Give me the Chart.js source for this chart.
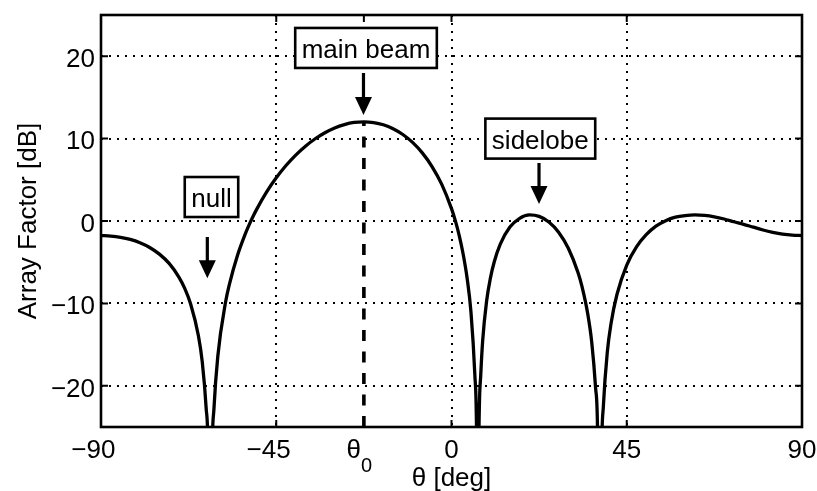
<!DOCTYPE html>
<html>
<head>
<meta charset="utf-8">
<script src="https://cdn.jsdelivr.net/npm/chart.js@4"></script>
<style>
  html, body { margin: 0; padding: 0; background: #fff; }
</style>
</head>
<body>
<canvas id="afChart" width="817" height="491"></canvas>
<script>
// Array factor (dB vs angle in degrees)
const thetaDeg = [-90, -87.5, -85, -82.5, -80, -77.5, -75, -72.5, -70, -68.5,
  -67, -65, -64, -63, -62.5, -61.97, -61.5, -61, -60, -58,
  -57, -55, -53, -52, -51, -50, -47.5, -45, -42.5, -40,
  -37.5, -35, -32.5, -30, -27.5, -25, -22.5, -20, -17.5, -15,
  -12.5, -10, -7.5, -5, -2.5, 0, 1, 2, 3, 4,
  5, 6, 6.5, 6.74, 7, 7.5, 8, 9, 10, 11,
  12.5, 15, 17.5, 20, 22.5, 25, 27.5, 30, 32.5, 33.5,
  35, 36, 37, 37.5, 38.12, 38.5, 39, 40, 41, 42.5,
  45, 47.5, 50, 52.5, 55, 57.5, 60, 62.5, 65, 67.5,
  70, 72.5, 75, 77.5, 80, 82.5, 85, 87.5, 90];
const afDb = [-1.77, -1.83, -1.98, -2.24, -2.64, -3.21, -4.02, -5.15, -6.81, -8.18,
  -10.04, -13.90, -17.1, -22.7, -28.4, -60, -29.2, -22.8, -16.38, -9.81,
  -7.62, -4.24, -1.63, -0.51, 0.51, 1.44, 3.50, 5.24, 6.73, 8.00,
  9.08, 9.98, 10.71, 11.29, 11.70, 11.96, 12.04, 11.95, 11.68, 11.20,
  10.50, 9.54, 8.27, 6.61, 4.44, 1.50, 0.01, -1.80, -4.03, -6.91,
  -11.06, -18.72, -28.7, -60, -27.9, -18.79, -14.55, -9.77, -6.90, -4.91,
  -2.83, -0.74, 0.33, 0.74, 0.56, -0.12, -1.36, -3.30, -6.27, -7.93,
  -11.31, -14.67, -20.24, -25.4, -60, -29.7, -22.45, -15.95, -12.34, -8.89,
  -5.35, -3.14, -1.66, -0.63, 0.04, 0.46, 0.66, 0.74, 0.67, 0.50,
  0.24, -0.09, -0.40, -0.75, -1.09, -1.37, -1.59, -1.72, -1.77];

// steering direction marker (dashed line up to the main beam peak)
const steerDeg = [-22.5, -22.5];
const steerDb = [-25, 12.04];

const xTickValues = [-90, -45, -22.5, 0, 45, 90];
const xTickLabels = ['\u221290', '\u221245', 'θ0', '0', '45', '90'];
const yTickValues = [-20, -10, 0, 10, 20];
const yTickLabels = ['\u221220', '\u221210', '0', '10', '20'];

const FONT = "'Liberation Sans', Arial, Helvetica, sans-serif";

function pts(xs, ys) {
  return xs.map((x, i) => ({ x: x, y: ys[i] }));
}

// frame, inside ticks, tick labels, titles and callouts (MATLAB look)
const matlabDecor = {
  id: 'matlabDecor',
  afterDraw(chart, args, opts) {
    const ctx = chart.ctx;
    const a = chart.chartArea;
    const xs = chart.scales.x, ys = chart.scales.y;
    ctx.save();
    ctx.strokeStyle = '#000';
    ctx.fillStyle = '#000';

    // inner tick marks
    ctx.lineWidth = 2;
    ctx.beginPath();
    xTickValues.forEach(v => {
      const px = xs.getPixelForValue(v);
      ctx.moveTo(px, a.bottom); ctx.lineTo(px, a.bottom - 7);
      ctx.moveTo(px, a.top); ctx.lineTo(px, a.top + 7);
    });
    yTickValues.forEach(v => {
      const py = ys.getPixelForValue(v);
      ctx.moveTo(a.left, py); ctx.lineTo(a.left + 7, py);
      ctx.moveTo(a.right, py); ctx.lineTo(a.right - 7, py);
    });
    ctx.stroke();

    // axes box
    ctx.lineWidth = 2.6;
    ctx.strokeRect(a.left, a.top, a.right - a.left, a.bottom - a.top);

    // x tick labels (digits centred on the tick, minus hangs left)
    ctx.font = '26px ' + FONT;
    ctx.textBaseline = 'alphabetic';
    ctx.textAlign = 'left';
    xTickValues.forEach((v, i) => {
      const px = xs.getPixelForValue(v);
      const lab = xTickLabels[i];
      const by = a.bottom + 31;
      if (lab === 'θ0') {
        ctx.font = '26px ' + FONT;
        ctx.textAlign = 'right';
        ctx.fillText('θ', px - 3, by);
        ctx.font = '20px ' + FONT;
        ctx.textAlign = 'left';
        ctx.fillText('0', px - 3, by + 14);
        ctx.font = '26px ' + FONT;
        return;
      }
      const neg = lab.charAt(0) === '\u2212';
      const digits = neg ? lab.slice(1) : lab;
      const dw = ctx.measureText(digits).width;
      const mw = neg ? ctx.measureText('\u2212').width : 0;
      ctx.fillText(lab, px - dw / 2 - mw, by);
    });

    // y tick labels
    ctx.textAlign = 'right';
    yTickValues.forEach((v, i) => {
      const py = ys.getPixelForValue(v);
      ctx.fillText(yTickLabels[i], a.left - 6, py + 10.7);
    });

    // axis titles
    ctx.textAlign = 'center';
    ctx.fillText('θ [deg]', (a.left + a.right) / 2, 485.5);
    ctx.save();
    ctx.translate(36, (a.top + a.bottom) / 2);
    ctx.rotate(-Math.PI / 2);
    ctx.fillText('Array Factor [dB]', 0, 0);
    ctx.restore();

    // callouts
    opts.callouts.forEach(c => {
      const bx = xs.getPixelForValue(c.box[0]);
      const by = ys.getPixelForValue(c.box[1]);
      ctx.font = '26px ' + FONT;
      const w = ctx.measureText(c.text).width + 13;
      const h = 40;
      ctx.fillStyle = '#fff';
      ctx.fillRect(bx - w / 2, by - h / 2, w, h);
      ctx.lineWidth = 2.6;
      ctx.strokeRect(bx - w / 2, by - h / 2, w, h);
      ctx.fillStyle = '#000';
      ctx.textAlign = 'center';
      ctx.fillText(c.text, bx, by + 10);

      const ax = xs.getPixelForValue(c.tip[0]);
      const ty = ys.getPixelForValue(c.tail[1]);
      const py = ys.getPixelForValue(c.tip[1]);
      ctx.lineWidth = 3.2;
      ctx.beginPath();
      ctx.moveTo(ax, ty);
      ctx.lineTo(ax, py - 16);
      ctx.stroke();
      ctx.beginPath();
      ctx.moveTo(ax, py);
      ctx.lineTo(ax - 8.5, py - 18);
      ctx.lineTo(ax + 8.5, py - 18);
      ctx.closePath();
      ctx.fill();
    });
    ctx.restore();
  }
};

const ctx = document.getElementById('afChart').getContext('2d');

new Chart(ctx, {
  type: 'line',
  data: {
    datasets: [{
      label: 'AF',
      data: pts(thetaDeg, afDb),
      borderColor: '#000',
      borderWidth: 3.3,
      pointRadius: 0,
      fill: false,
      cubicInterpolationMode: 'monotone'
    }, {
      label: 'theta0',
      data: pts(steerDeg, steerDb),
      borderColor: '#000',
      borderWidth: 3.6,
      borderDash: [11, 10.5],
      pointRadius: 0,
      fill: false
    }]
  },
  options: {
    responsive: false,
    animation: false,
    layout: { padding: { left: 0, top: 15, right: 15, bottom: 0 } },
    plugins: {
      legend: { display: false },
      tooltip: { enabled: false },
      matlabDecor: {
        callouts: [
          { text: 'main beam', box: [-21.95, 21.0], tail: [-22.6, 17.96], tip: [-22.6, 12.86] },
          { text: 'null', box: [-61.63, 2.91], tail: [-62.7, -1.94], tip: [-62.7, -6.95] },
          { text: 'sidelobe', box: [22.8, 10.0], tail: [22.47, 7.04], tip: [22.47, 2.06] }
        ]
      }
    },
    scales: {
      x: {
        type: 'linear',
        min: -90,
        max: 90,
        afterBuildTicks: s => { s.ticks = xTickValues.map(v => ({ value: v })); },
        afterFit: s => { s.height = 64; },
        ticks: { display: false },
        border: { display: false, dash: [2, 6] },
        grid: {
          drawTicks: false,
          lineWidth: 2,
          color: c => (c.tick && c.tick.value === -22.5) ? 'rgba(0,0,0,0)' : '#000'
        }
      },
      y: {
        min: -25,
        max: 25,
        afterBuildTicks: s => { s.ticks = yTickValues.map(v => ({ value: v })); },
        afterFit: s => { s.width = 101; },
        ticks: { display: false },
        border: { display: false, dash: [2, 6] },
        grid: { drawTicks: false, lineWidth: 2, color: '#000' }
      }
    }
  },
  plugins: [matlabDecor]
});
</script>
</body>
</html>
